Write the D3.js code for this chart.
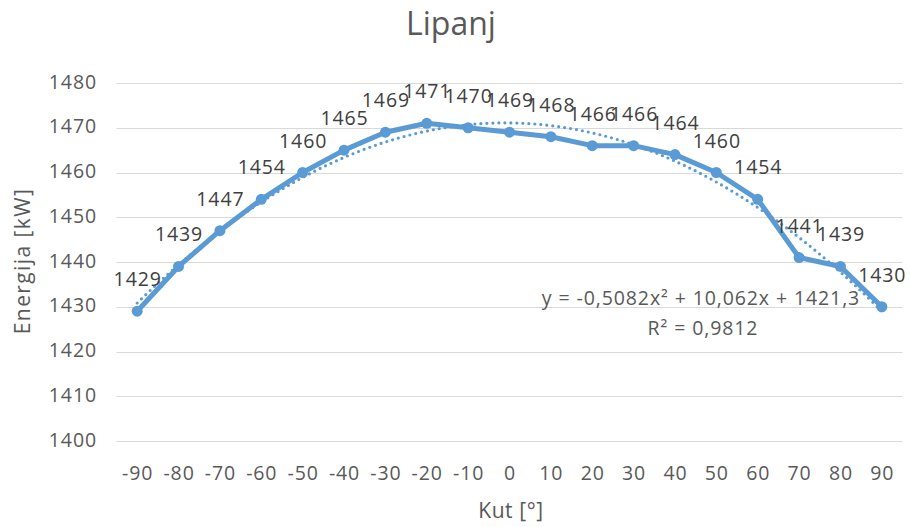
<!DOCTYPE html>
<html lang="hr">
<head>
<meta charset="UTF-8">
<title>Lipanj</title>
<style>
body { margin: 0; background: #fff; }
svg { display: block; font-family: 'Open Sans', sans-serif; }
.grid line { stroke: #d9d9d9; stroke-width: 1; }
.tick-label { fill: #595959; font-size: 19.5px; letter-spacing: 0.9px; }
.dlabel { fill: #404040; font-size: 19.5px; letter-spacing: 0.9px; text-anchor: middle; }
.eq { fill: #595959; font-size: 19.5px; letter-spacing: 0.9px; text-anchor: middle; }
</style>
</head>
<body>
<svg id="chart" width="910" height="527"></svg>
<script src="https://cdnjs.cloudflare.com/ajax/libs/d3/7.8.5/d3.min.js"></script>
<script>
/* global d3 */
var kut = [-90, -80, -70, -60, -50, -40, -30, -20, -10, 0, 10, 20, 30, 40, 50, 60, 70, 80, 90];
var energija = [1429, 1439, 1447, 1454, 1460, 1465, 1469, 1471, 1470, 1469, 1468, 1466, 1466, 1464, 1460, 1454, 1441, 1439, 1430];
var yTicks = [1400, 1410, 1420, 1430, 1440, 1450, 1460, 1470, 1480];
var equationText = "y = -0,5082x² + 10,062x + 1421,3";
var r2Text = "R² = 0,9812";

var blue = "#5B9BD5";
var svg = d3.select("#chart");

var x = d3.scalePoint().domain(kut).range([116.5, 902.5]).padding(0.5);
var y = d3.scaleLinear().domain([1400, 1480]).range([441, 83]);

// gridlines
svg.append("g").attr("class", "grid")
  .selectAll("line").data(yTicks).enter().append("line")
  .attr("x1", 116.5).attr("x2", 902.5)
  .attr("y1", function (d) { return Math.round(y(d)) + 0.5; })
  .attr("y2", function (d) { return Math.round(y(d)) + 0.5; });

// y tick labels
svg.append("g").selectAll("text").data(yTicks).enter().append("text")
  .attr("class", "tick-label")
  .attr("x", 97).attr("y", function (d) { return y(d) + 5.5; })
  .attr("text-anchor", "end")
  .text(function (d) { return d; });

// x tick labels
svg.append("g").selectAll("text").data(kut).enter().append("text")
  .attr("class", "tick-label")
  .attr("x", function (d) { return x(d) + 0.5; }).attr("y", 480)
  .attr("text-anchor", "middle")
  .text(function (d) { return d; });

// titles
svg.append("text").attr("x", 451).attr("y", 35).attr("text-anchor", "middle")
  .attr("fill", "#595959").style("font-size", "32px").text("Lipanj");
svg.append("text").attr("x", 511).attr("y", 518).attr("text-anchor", "middle")
  .attr("fill", "#595959").style("font-size", "21px").style("letter-spacing", "0.6px").text("Kut [°]");
svg.append("text").attr("transform", "translate(30,261) rotate(-90)").attr("text-anchor", "middle")
  .attr("fill", "#595959").style("font-size", "21px").style("letter-spacing", "1.4px").text("Energija [kW]");

var data = kut.map(function (k, i) { return { k: k, v: energija[i], i: i + 1 }; });

// main line
svg.append("path").datum(data)
  .attr("fill", "none").attr("stroke", blue).attr("stroke-width", 5)
  .attr("stroke-linejoin", "round")
  .attr("d", d3.line().x(function (d) { return x(d.k); }).y(function (d) { return y(d.v); }));

// polynomial trendline (least squares, order 2, x = category index)
function polyFit(pts) {
  var s = [0, 0, 0, 0, 0], t = [0, 0, 0];
  pts.forEach(function (p) {
    for (var j = 0; j < 5; j++) s[j] += Math.pow(p.i, j);
    for (var k = 0; k < 3; k++) t[k] += p.v * Math.pow(p.i, k);
  });
  var m = [[s[0], s[1], s[2], t[0]], [s[1], s[2], s[3], t[1]], [s[2], s[3], s[4], t[2]]];
  for (var c = 0; c < 3; c++) {
    for (var r = c + 1; r < 3; r++) {
      var f = m[r][c] / m[c][c];
      for (var q = c; q < 4; q++) m[r][q] -= f * m[c][q];
    }
  }
  var b = [0, 0, 0];
  for (var r2 = 2; r2 >= 0; r2--) {
    var sum = m[r2][3];
    for (var q2 = r2 + 1; q2 < 3; q2++) sum -= m[r2][q2] * b[q2];
    b[r2] = sum / m[r2][r2];
  }
  return b;
}
var coef = polyFit(data);
var step = x.step();
var xi = function (i) { return x(kut[0]) + (i - 1) * step; };
var trend = d3.range(1, 19.001, 0.1).map(function (i) {
  return [xi(i), y(coef[0] + coef[1] * i + coef[2] * i * i)];
});
svg.append("path").datum(trend)
  .attr("fill", "none").attr("stroke", blue).attr("stroke-width", 3.2)
  .attr("stroke-linecap", "round").attr("stroke-dasharray", "0 6")
  .attr("d", d3.line());

// markers
svg.append("g").selectAll("circle").data(data).enter().append("circle")
  .attr("cx", function (d) { return x(d.k); }).attr("cy", function (d) { return y(d.v); })
  .attr("r", 5.5).attr("fill", blue);

// data labels
svg.append("g").selectAll("text").data(data).enter().append("text")
  .attr("class", "dlabel")
  .attr("x", function (d) { return x(d.k) + 0.5; }).attr("y", function (d) { return y(d.v) - 25; })
  .text(function (d) { return d.v; });

// equation
svg.append("text").attr("class", "eq").attr("x", 701).attr("y", 305).text(equationText);
svg.append("text").attr("class", "eq").attr("x", 703).attr("y", 335).text(r2Text);
</script>
</body>
</html>
